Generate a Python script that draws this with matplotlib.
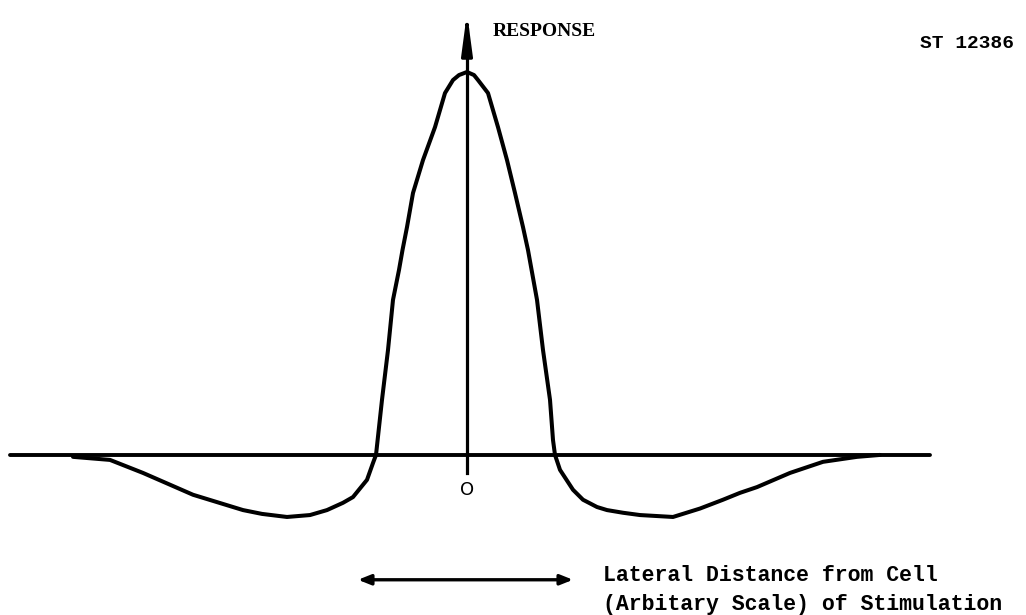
import matplotlib
matplotlib.use("Agg")
import matplotlib.pyplot as plt

# response curve (lateral distance, response)
dist = [-3.94, -3.57, -3.24, -2.74, -2.24, -2.05, -1.80, -1.57, -1.40, -1.24,
        -1.14, -1.00, -0.94, -0.91, -0.85, -0.79, -0.74, -0.68, -0.645, -0.60,
        -0.54, -0.44, -0.32, -0.22, -0.14, -0.08, 0.0, 0.07, 0.11, 0.21,
        0.31, 0.40, 0.48, 0.56, 0.61, 0.70, 0.76, 0.83, 0.86, 0.88,
        0.93, 1.06, 1.16, 1.30, 1.40, 1.56, 1.73, 2.06, 2.33,
        2.56, 2.73, 2.90, 3.23, 3.56, 3.90, 4.13]
response = [-0.005, -0.013, -0.047, -0.104, -0.144, -0.154, -0.162, -0.157, -0.144, -0.125,
            -0.110, -0.065, -0.021, 0.0, 0.144, 0.274, 0.405, 0.483, 0.535, 0.595,
            0.684, 0.770, 0.856, 0.945, 0.979, 0.992, 1.0, 0.992, 0.979, 0.945,
            0.856, 0.770, 0.684, 0.595, 0.535, 0.405, 0.274, 0.144, 0.039, 0.0,
            -0.039, -0.091, -0.117, -0.136, -0.144, -0.151, -0.157, -0.162, -0.140,
            -0.117, -0.099, -0.084, -0.047, -0.018, -0.005, 0.0]

# axes extents
x_axis = [-4.57, 4.63]
y_axis = [-0.047, 1.162]
scale_bar = [-1.09, 1.06]
scale_bar_y = -0.326

fig = plt.figure(figsize=(10.26, 6.15), dpi=100)
ax = fig.add_axes([0, 0, 1, 1])
ax.set_xlim(-4.67, 5.59)
ax.set_ylim(-0.418, 1.188)
ax.axis("off")

# horizontal axis
ax.plot(x_axis, [0, 0], color="black", lw=2.8, solid_capstyle="round")

# vertical axis with arrow
ax.plot([0, 0], [y_axis[0], y_axis[1] - 0.05], color="black", lw=2.3)
ax.annotate("", xy=(0, y_axis[1]), xytext=(0, y_axis[1] - 0.07),
            arrowprops=dict(arrowstyle="-|>,head_length=1.2,head_width=0.16",
                            color="black", lw=2.3, mutation_scale=20))

# curve
ax.plot(dist, response, color="black", lw=2.9, solid_capstyle="round",
        solid_joinstyle="round")

ax.text(0, -0.092, "O", ha="center", va="center", fontsize=13,
        family="DejaVu Sans")
ax.text(0.26, 1.105, "RESPONSE", ha="left", va="center", fontsize=14,
        family="Liberation Serif", weight="bold")
fig.text(0.8965, 0.930, "ST 12386", ha="left", va="center", fontsize=14,
         family="Liberation Mono", weight="bold")

# scale arrow and its caption
ax.annotate("", xy=(scale_bar[0], scale_bar_y), xytext=(scale_bar[1], scale_bar_y),
            arrowprops=dict(arrowstyle="<|-|>,head_length=0.5,head_width=0.2",
                            color="black", lw=2.4, mutation_scale=15,
                            shrinkA=0, shrinkB=0))
ax.text(1.36, -0.352, "Lateral Distance from Cell\n(Arbitary Scale) of Stimulation",
        ha="left", va="center", fontsize=15.5, family="Liberation Mono",
        weight="bold", linespacing=1.5)

fig.savefig("out.png", dpi=100)
